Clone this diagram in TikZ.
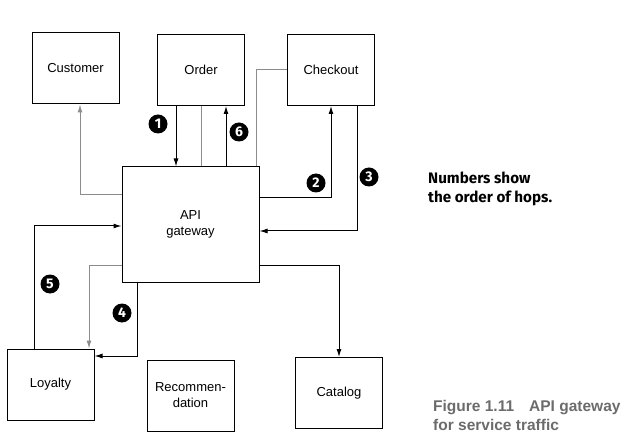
\documentclass[tikz,border=0pt]{standalone}
\usepackage{fontspec}
\setmainfont{Liberation Sans}
\newfontfamily\notefont{Fira Sans}
\usetikzlibrary{arrows.meta}
\definecolor{wire}{gray}{0.55}
\definecolor{capgray}{gray}{0.42}

\begin{document}
\begin{tikzpicture}[x=1pt,y=-1pt,
    service/.style={draw,line width=1pt,minimum width=87pt,minimum height=71pt,align=center,font=\fontsize{13}{16}\selectfont},
    hop/.style={line width=1pt,-{Latex[length=8pt,width=5pt]}},
    grayhop/.style={hop,draw=wire},
    badge/.style={circle,fill=black,text=white,inner sep=0pt,minimum size=19pt,font=\notefont\bfseries\fontsize{14}{14}\selectfont}]
    \useasboundingbox (0,0) rectangle (642,446);
    \node[service] (customer) at (75.5,68.5) {Customer};
    \node[service] (order) at (201,70) {Order};
    \node[service] (checkout) at (331,70) {Checkout};
    \node[service,minimum width=137pt,minimum height=115pt] (gw) at (190.5,224.5) {API\\gateway};
    \node[service] (loyalty) at (50.5,384.5) {Loyalty};
    \node[service] (reco) at (190.5,395.5) {Recommen-\\dation};
    \node[service] (catalog) at (339,393) {Catalog};
    \draw[grayhop] ([yshift=29.5pt]gw.west) -| ([xshift=4.5pt]customer.south);
    \draw[hop] ([xshift=-25pt]order.south) -- ([xshift=-25pt]order.south |- gw.north);
    \draw[wire,line width=1pt] (order.south) -- (order.south |- gw.north);
    \draw[hop] ([xshift=25pt]order.south |- gw.north) -- ([xshift=25pt]order.south);
    \draw[wire,line width=1pt] (checkout.west) -| ([xshift=-3pt]gw.north east);
    \draw[hop] ([yshift=26.5pt]gw.east) -| (checkout.south);
    \draw[hop] ([xshift=26pt]checkout.south) |- ([yshift=-6.5pt]gw.east);
    \draw[grayhop] ([yshift=-40.5pt]gw.west) -| ([xshift=38.5pt]loyalty.north);
    \draw[hop] ([xshift=-53.5pt]gw.south) |- ([yshift=28.5pt]loyalty.east);
    \draw[hop] ([xshift=-16.5pt]loyalty.north) |- ([yshift=-1.5pt]gw.west);
    \draw[hop] ([yshift=-40.5pt]gw.east) -| (catalog.north);
    \node[badge] (b1) at (158,124) {1};
    \node[badge] (b2) at (316,183) {2};
    \node[badge] (b3) at (369,177) {3};
    \node[badge] (b4) at (122,313) {4};
    \node[badge] (b5) at (50,284) {5};
    \node[badge] (b6) at (239,132) {6};
    \node[anchor=north west,align=left,inner sep=0pt,font=\notefont\bfseries\fontsize{15.2}{19}\selectfont] (note) at (428,171.5) {Numbers show\\the order of hops.};
    \node[anchor=north west,align=left,inner sep=0pt,text=capgray,font=\bfseries\fontsize{15.5}{19}\selectfont] (caption) at (433,400.5) {Figure 1.11\hspace{15pt}API gateway\\for service traffic};
\end{tikzpicture}
\end{document}
